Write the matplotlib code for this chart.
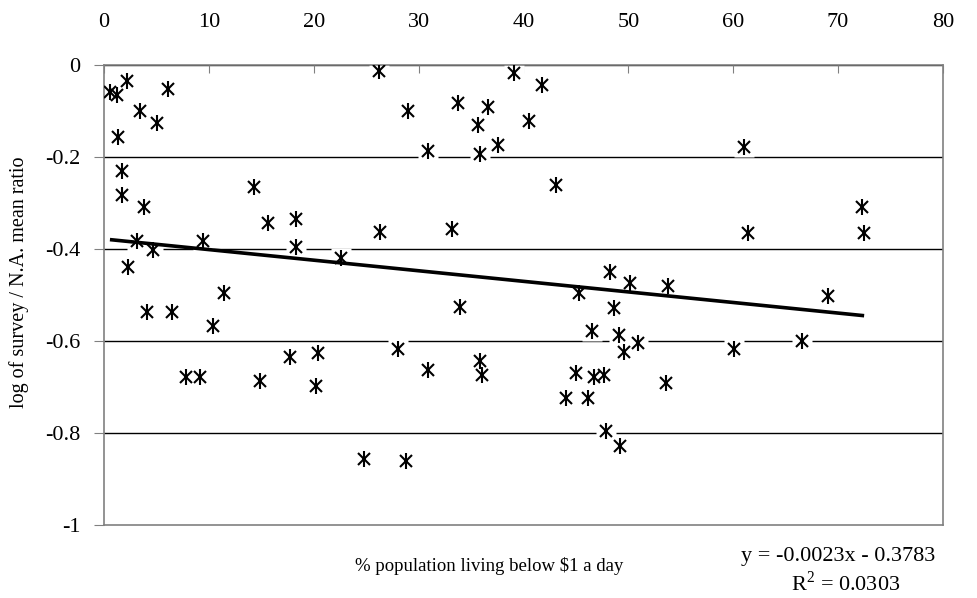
import numpy as np
import matplotlib.pyplot as plt

plt.rcParams['font.family'] = ['Liberation Serif', 'DejaVu Serif']
plt.rcParams['mathtext.fontset'] = 'custom'
plt.rcParams['mathtext.rm'] = 'Liberation Serif'

# % population living below $1 a day
poverty = [0.57, 1.21, 2.16, 6.12, 3.43, 5.02, 1.37, 1.75, 1.75, 3.84,
           14.3, 15.65, 18.35, 18.35, 3.11, 4.63, 9.4, 2.31, 11.46, 22.6,
           4.06, 6.5, 10.35, 7.87, 9.2, 14.92, 17.78, 20.4, 20.25, 26.19,
           39.14, 41.78, 29.0, 33.8, 36.6, 35.65, 40.48, 30.9, 35.87, 37.6,
           43.1, 26.35, 33.2, 45.33, 33.97, 28.03, 30.9, 35.87, 36.07, 44.06,
           45.0, 24.79, 28.83, 60.98, 61.43, 48.25, 50.16, 53.75, 48.6, 46.5,
           49.14, 50.95, 49.62, 60.03, 66.54, 46.76, 47.7, 46.19, 53.59, 47.87,
           49.2, 72.25, 72.48, 69.05]
# log of survey / N.A. mean ratio
log_ratio = [-0.058, -0.065, -0.035, -0.052, -0.100, -0.127, -0.157, -0.230, -0.283, -0.309,
             -0.265, -0.343, -0.335, -0.396, -0.383, -0.402, -0.382, -0.440, -0.495, -0.420,
             -0.536, -0.536, -0.567, -0.679, -0.679, -0.688, -0.635, -0.627, -0.697, -0.013,
             -0.017, -0.043, -0.100, -0.083, -0.092, -0.131, -0.122, -0.188, -0.193, -0.174,
             -0.261, -0.364, -0.357, -0.496, -0.527, -0.618, -0.662, -0.643, -0.675, -0.723,
             -0.670, -0.857, -0.861, -0.179, -0.366, -0.449, -0.475, -0.480, -0.528, -0.578,
             -0.587, -0.605, -0.623, -0.618, -0.600, -0.678, -0.674, -0.723, -0.692, -0.796,
             -0.828, -0.309, -0.366, -0.502]

# trend line as reported on the chart
slope, intercept = -0.0023, -0.3783

x_ticks = [0, 10, 20, 30, 40, 50, 60, 70, 80]
y_ticks = [0, -0.2, -0.4, -0.6, -0.8, -1]
y_labels = ['0', '-0.2', '-0.4', '-0.6', '-0.8', '-1']

fig = plt.figure(figsize=(9.77, 5.98), dpi=100)
ax = fig.add_axes([0.1064, 0.1221, 0.8588, 0.7692])

ax.set_xlim(0, 80)
ax.set_ylim(-1, 0)

for y in y_ticks[:-1]:
    ax.axhline(y, color='black', lw=1.0, zorder=1)

# white box behind each marker (breaks the gridlines like the original)
ax.plot(poverty, log_ratio, ls='none', marker='s', ms=14, mfc='white', mec='none', zorder=2)
ax.plot(poverty, log_ratio, ls='none', marker='x', ms=9, mew=1.5, color='black', zorder=3)
ax.plot(poverty, log_ratio, ls='none', marker='|', ms=12, mew=1.5, color='black', zorder=3)

xs = np.array([min(poverty), max(poverty)])
ax.plot(xs, slope * xs + intercept, color='black', lw=2.6, zorder=4,
        solid_capstyle='butt')

ax.xaxis.tick_top()
ax.set_xticks(x_ticks)
ax.set_yticks(y_ticks)
ax.set_yticklabels(y_labels)
ax.tick_params(axis='x', direction='in', length=6, color='#808080', labelsize=16, pad=24)
ax.tick_params(axis='y', direction='out', length=7, color='#808080', labelsize=16, pad=10)

for s in ax.spines.values():
    s.set_color('#808080')
    s.set_linewidth(1.2)

fig.text(19 / 977, 1 - 282 / 598, 'log of survey / N.A. mean ratio',
         ha='center', va='center', rotation=90, fontsize=14.5)
fig.text(489 / 977, 1 - 566 / 598, '% population living below $1 a day',
         ha='center', va='center', fontsize=13.5)
fig.text(838 / 977, 1 - 556 / 598, 'y = -0.0023x - 0.3783',
         ha='center', va='center', fontsize=16)
fig.text(846 / 977, 1 - 583 / 598, r'R$^\mathrm{2}$ = 0.0303',
         ha='center', va='center', fontsize=16)

fig.savefig('out.png', dpi=100)
